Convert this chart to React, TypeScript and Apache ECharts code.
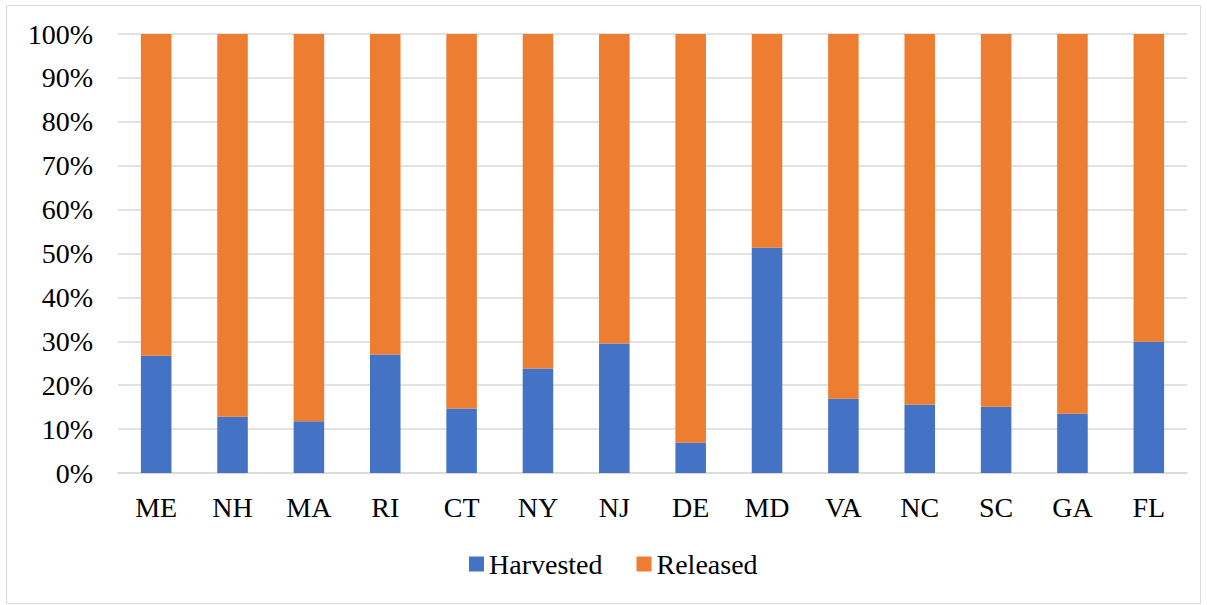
import React, { useEffect, useRef } from "react";
import * as echarts from "echarts";

const states = ["ME", "NH", "MA", "RI", "CT", "NY", "NJ", "DE", "MD", "VA", "NC", "SC", "GA", "FL"];
const harvested = [26.7, 12.8, 11.8, 27.0, 14.7, 23.8, 29.5, 6.9, 51.3, 16.9, 15.6, 15.1, 13.5, 29.9];
const released = harvested.map((h) => +(100 - h).toFixed(1));
const yTicks = [0, 10, 20, 30, 40, 50, 60, 70, 80, 90, 100];

const FONT = "Liberation Serif";

export default function App() {
  const ref = useRef<HTMLDivElement>(null);
  useEffect(() => {
    document.body.style.margin = "0";
    const chart = echarts.init(ref.current!, null, { renderer: "svg" });
    chart.setOption({
      animation: false,
      backgroundColor: "#ffffff",
      textStyle: { fontFamily: FONT },
      graphic: [
        {
          type: "rect",
          shape: { x: 6.5, y: 5.5, width: 1194, height: 598 },
          style: { fill: "none", stroke: "#d9d9d9", lineWidth: 1 },
          silent: true,
        },
      ],
      grid: { left: 118, right: 20, top: 34, bottom: 132 },
      legend: {
        left: 464,
        top: 545,
        itemWidth: 15,
        itemHeight: 15,
        itemGap: 34,
        icon: "rect",
        textStyle: { fontFamily: FONT, fontSize: 28, color: "#000" },
        data: ["Harvested", "Released"],
      },
      xAxis: {
        type: "category",
        data: states,
        axisLine: { lineStyle: { color: "#d9d9d9", width: 1.5 } },
        axisTick: { show: false },
        axisLabel: { fontFamily: FONT, fontSize: 28, color: "#000", margin: 20 },
      },
      yAxis: {
        type: "value",
        min: 0,
        max: 100,
        interval: 10,
        axisLine: { show: false },
        axisTick: { show: false },
        splitLine: { lineStyle: { color: "#d9d9d9", width: 1.5 } },
        axisLabel: {
          fontFamily: FONT,
          fontSize: 28,
          color: "#000",
          margin: 25,
          formatter: (v: number) => (yTicks.includes(v) ? v + "%" : ""),
        },
      },
      series: [
        {
          name: "Harvested",
          type: "bar",
          stack: "total",
          barWidth: "40%",
          itemStyle: { color: "#4472C4" },
          data: harvested,
        },
        {
          name: "Released",
          type: "bar",
          stack: "total",
          barWidth: "40%",
          itemStyle: { color: "#ED7D31" },
          data: released,
        },
      ],
    });
    return () => chart.dispose();
  }, []);
  return <div ref={ref} style={{ width: 1207, height: 605 }} />;
}
